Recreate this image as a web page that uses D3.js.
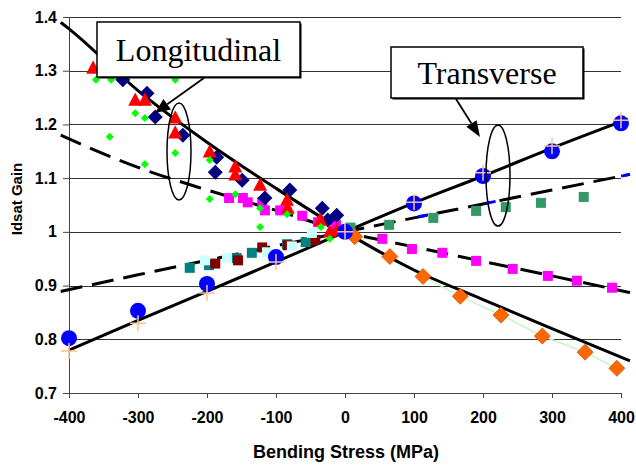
<!DOCTYPE html>
<html>
<head>
<meta charset="utf-8">
<script src="https://cdn.jsdelivr.net/npm/d3@7"></script>
<style>
    body { margin: 0; background: #fff; }
    svg text { font-family: "Liberation Sans", Arial, sans-serif; }
</style>
</head>
<body>
<svg id="chart" width="636" height="466" viewBox="0 0 636 466"></svg>
<script>
// axis ticks
const xTicks = [-400, -300, -200, -100, 0, 100, 200, 300, 400];
const xTickLabels = ["-400", "-300", "-200", "-100", "0", "100", "200", "300", "400"];
const yTicks = [0.7, 0.8, 0.9, 1.0, 1.1, 1.2, 1.3, 1.4];
const yTickLabels = ["0.7", "0.8", "0.9", "1", "1.1", "1.2", "1.3", "1.4"];

// longitudinal measurements [stress, gain]
const redTriangles = [[-365, 1.305], [-304, 1.245], [-290, 1.245], [-246, 1.212], [-246, 1.184],
    [-196, 1.149], [-159, 1.121], [-159, 1.106], [-123, 1.087], [-84, 1.059], [-83, 1.044],
    [-36, 1.022], [-22, 1.0], [-12, 1.003]];
const navyDiamonds = [[-322, 1.283], [-287, 1.258], [-275, 1.214], [-235, 1.18], [-186, 1.139],
    [-188, 1.111], [-149, 1.096], [-116, 1.063], [-80, 1.078], [-33, 1.044], [-12, 1.031], [-25, 1.022]];
const greenDiamonds = [[-361, 1.283], [-339, 1.283], [-246, 1.283], [-304, 1.221], [-290, 1.212],
    [-341, 1.177], [-246, 1.147], [-290, 1.126], [-196, 1.134], [-196, 1.061], [-159, 1.07],
    [-123, 1.044], [-123, 1.009], [-84, 1.033], [-35, 1.009], [-22, 0.987]];
const magentaSquares = [[-168, 1.063], [-148, 1.063], [-141, 1.055], [-120, 1.055], [-116, 1.04],
    [-94, 1.04], [-62, 1.03], [-39, 1.018], [-13, 1.013], [54, 0.987], [97, 0.968], [141, 0.961],
    [190, 0.946], [243, 0.931], [294, 0.918], [336, 0.909], [387, 0.896]];
const orangeDiamonds = [[14, 0.991], [65, 0.954], [113, 0.917], [167, 0.88], [226, 0.845],
    [286, 0.806], [348, 0.776], [394, 0.746]];

// transverse measurements
const tealSquares = [[-225, 0.933], [-197, 0.938], [-157, 0.951], [-135, 0.961], [-84, 0.977], [-57, 0.981]];
const maroonSquares = [[-188, 0.941], [-155, 0.947], [-120, 0.971], [-83, 0.975], [-43, 0.985]];
const cyanSquares = [[-203, 0.947], [-171, 0.951], [-113, 0.962], [-77, 0.973], [-48, 0.998]];
const seaGreenSquares = [[8, 1.008], [64, 1.013], [128, 1.026], [190, 1.039], [233, 1.046], [284, 1.054], [346, 1.065]];
const blueCircles = [[-400, 0.802], [-300, 0.853], [-200, 0.903], [-100, 0.953], [0, 1.0],
    [100, 1.053], [200, 1.104], [300, 1.15], [400, 1.202]];
const tanCrosses = [[-400, 0.778], [-300, 0.83], [-200, 0.886], [-100, 0.944], [0, 1.0],
    [100, 1.055], [200, 1.11], [300, 1.16], [400, 1.208]];

// trend lines
const longSolid = [[-412, 1.39], [-400, 1.378], [-300, 1.263], [-200, 1.167], [-100, 1.081], [0, 1.0],
    [100, 0.929], [200, 0.874], [300, 0.82], [413, 0.76]];
const longDashed = [[-412, 1.18], [-300, 1.12], [-200, 1.078], [-100, 1.04], [0, 1.0],
    [100, 0.972], [200, 0.945], [300, 0.918], [413, 0.887]];
const transSolid = [[-400, 0.78], [-300, 0.835], [-200, 0.889], [-100, 0.944], [0, 1.0],
    [100, 1.054], [200, 1.104], [300, 1.156], [410, 1.21]];
const transDashed = [[-412, 0.889], [-300, 0.92], [-200, 0.947], [-100, 0.974], [0, 1.0],
    [100, 1.026], [200, 1.052], [300, 1.078], [413, 1.107]];
const blueDashed = [[106, 1.028], [200, 1.052], [300, 1.078], [413, 1.107]];

const svg = d3.select('#chart');
svg.append('rect').attr('width', 636).attr('height', 466).attr('fill', '#fff');

const x = d3.scaleLinear().domain([-400, 400]).range([69, 621]);
const y = d3.scaleLinear().domain([0.7, 1.4]).range([393, 17]);

// gridlines
svg.append('g').selectAll('line')
    .data(yTicks)
    .enter().append('line')
    .attr('x1', x(-400)).attr('x2', x(400))
    .attr('y1', d => Math.round(y(d)) + 0.5).attr('y2', d => Math.round(y(d)) + 0.5)
    .attr('stroke', '#333').attr('stroke-width', 1);

// axes
const xAxis = d3.axisBottom(x).tickValues(xTicks).tickSize(5).tickSizeOuter(0).tickPadding(14)
    .tickFormat((d, i) => xTickLabels[i]);
const gx = svg.append('g').attr('transform', 'translate(0,' + y(0.7) + ')').call(xAxis);

const yAxis = d3.axisLeft(y).tickValues(yTicks).tickSize(6).tickSizeOuter(0).tickPadding(6)
    .tickFormat((d, i) => yTickLabels[i]);
const gy = svg.append('g').attr('transform', 'translate(' + x(-400) + ',0)').call(yAxis);

[gx, gy].forEach(g => {
    g.select('.domain').attr('stroke', '#444');
    g.selectAll('.tick line').attr('stroke', '#444');
    g.selectAll('.tick text').attr('font-size', 16).attr('font-weight', 'bold')
        .attr('fill', '#000').style('font-family', '"Liberation Sans", Arial, sans-serif');
});

// axis titles
svg.append('text')
    .attr('x', 346).attr('y', 458)
    .attr('text-anchor', 'middle').attr('font-size', 18).attr('font-weight', 'bold')
    .text('Bending Stress (MPa)');
svg.append('text')
    .attr('transform', 'translate(22,199) rotate(-90)')
    .attr('text-anchor', 'middle').attr('font-size', 15).attr('font-weight', 'bold')
    .text('Idsat Gain');

// trend lines
const line = d3.line().x(d => x(d[0])).y(d => y(d[1])).curve(d3.curveMonotoneX);

svg.append('path').datum(orangeDiamonds)
    .attr('d', d3.line().x(d => x(d[0])).y(d => y(d[1])))
    .attr('fill', 'none').attr('stroke', '#c6f5c6').attr('stroke-width', 1.5);

[longSolid, transSolid].forEach(data => {
    svg.append('path').datum(data).attr('d', line)
        .attr('fill', 'none').attr('stroke', '#000').attr('stroke-width', 3);
});
[longDashed, transDashed].forEach(data => {
    svg.append('path').datum(data).attr('d', line)
        .attr('fill', 'none').attr('stroke', '#000').attr('stroke-width', 3)
        .attr('stroke-dasharray', '22,10');
});
svg.append('path').datum(blueDashed).attr('d', line)
    .attr('fill', 'none').attr('stroke', '#0000ff').attr('stroke-width', 3)
    .attr('stroke-dasharray', '10,59,10,128');

// markers
function drawMarkers(data, pathStr, fill, stroke, strokeWidth) {
    svg.append('g').selectAll('path')
        .data(data)
        .enter().append('path')
        .attr('transform', d => 'translate(' + x(d[0]) + ',' + y(d[1]) + ')')
        .attr('d', pathStr)
        .attr('fill', fill)
        .attr('stroke', stroke || 'none')
        .attr('stroke-width', strokeWidth || 0);
}
const square = s => 'M' + (-s / 2) + ',' + (-s / 2) + 'h' + s + 'v' + s + 'h' + (-s) + 'Z';
const diamond = h => 'M0,' + (-h) + 'L' + h + ',0L0,' + h + 'L' + (-h) + ',0Z';
const triangle = w => 'M0,' + (-w * 0.55) + 'L' + (w / 2) + ',' + (w * 0.4) + 'L' + (-w / 2) + ',' + (w * 0.4) + 'Z';

drawMarkers(tealSquares, square(10), '#008080');
drawMarkers(maroonSquares, square(10), '#800000');
drawMarkers(cyanSquares, square(10), '#ccffff');
drawMarkers(seaGreenSquares, square(10), '#339966');
drawMarkers(magentaSquares, square(10), '#ff00ff');
drawMarkers(navyDiamonds, diamond(7.5), '#000080');
drawMarkers(redTriangles, triangle(14), '#ff0000');
drawMarkers(greenDiamonds, diamond(4), '#00ff00');
drawMarkers(orangeDiamonds, diamond(8), '#ff6600', '#d35400', 0.8);
svg.append('g').selectAll('circle')
    .data(blueCircles)
    .enter().append('circle')
    .attr('cx', d => x(d[0])).attr('cy', d => y(d[1])).attr('r', 8)
    .attr('fill', '#0000ff');
drawMarkers(tanCrosses, 'M-8,0H8M0,-8V8', 'none', '#f9c38f', 1.5);

// annotations
const ann = svg.append('g');
ann.append('ellipse').attr('cx', 179).attr('cy', 151.5).attr('rx', 12).attr('ry', 48.5)
    .attr('fill', 'none').attr('stroke', '#000').attr('stroke-width', 1.5);
ann.append('ellipse').attr('cx', 498).attr('cy', 175.5).attr('rx', 12).attr('ry', 50.5)
    .attr('fill', 'none').attr('stroke', '#000').attr('stroke-width', 1.5);

function arrow(x1, y1, x2, y2, len, wid) {
    const a = Math.atan2(y2 - y1, x2 - x1);
    const bx = x2 - len * Math.cos(a), by = y2 - len * Math.sin(a);
    ann.append('line').attr('x1', x1).attr('y1', y1).attr('x2', bx).attr('y2', by)
        .attr('stroke', '#000').attr('stroke-width', 1.8);
    const px = Math.sin(a) * wid / 2, py = -Math.cos(a) * wid / 2;
    ann.append('path')
        .attr('d', 'M' + x2 + ',' + y2 + 'L' + (bx + px) + ',' + (by + py) + 'L' + (bx - px) + ',' + (by - py) + 'Z')
        .attr('fill', '#000');
}
arrow(204, 78, 155, 113, 15, 13);
arrow(456, 99, 480, 137, 16, 12);

function callout(x0, y0, w, h, label) {
    ann.append('rect').attr('x', x0 + 1.5).attr('y', y0 + 1.5).attr('width', w).attr('height', h)
        .attr('fill', '#000');
    ann.append('rect').attr('x', x0).attr('y', y0).attr('width', w).attr('height', h)
        .attr('fill', '#fff').attr('stroke', '#000').attr('stroke-width', 1.5);
    ann.append('text').attr('x', x0 + w / 2).attr('y', y0 + h / 2 + 11)
        .attr('text-anchor', 'middle').attr('font-size', 32)
        .style('font-family', '"Liberation Serif", "Times New Roman", serif')
        .text(label);
}
callout(97, 22, 203, 55, 'Longitudinal');
callout(391, 47, 192, 51, 'Transverse');
</script>
</body>
</html>
